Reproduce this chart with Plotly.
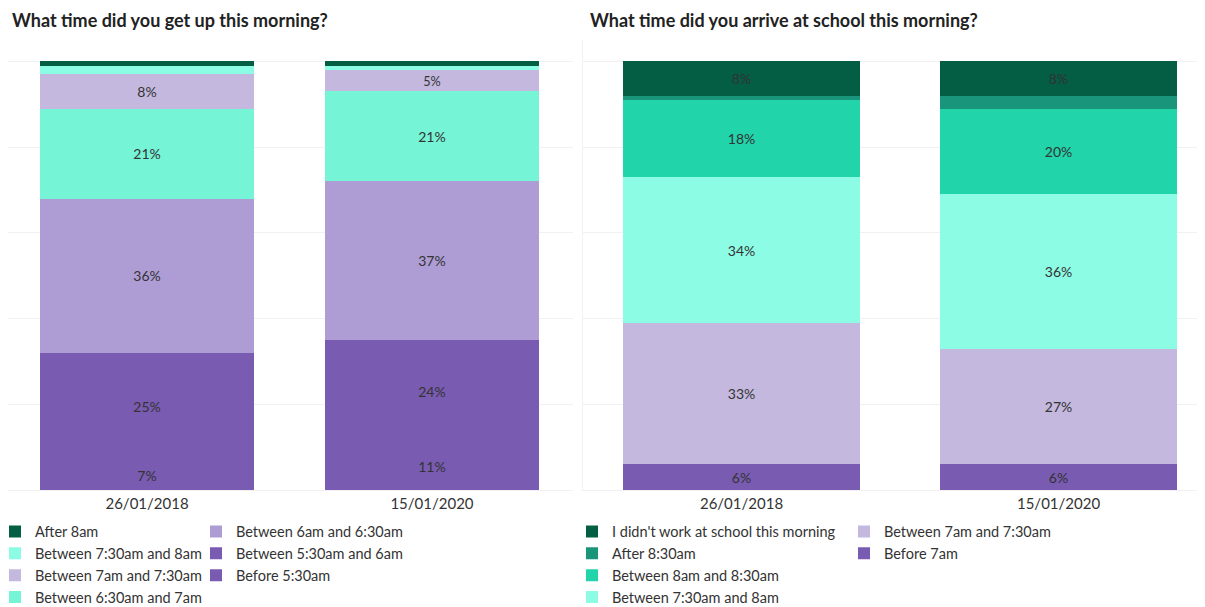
import plotly.graph_objects as go

dates = ["26/01/2018", "15/01/2020"]

# Left chart: "What time did you get up this morning?" (bottom -> top of stack)
wake_series = [
    "Before 5:30am",
    "Between 5:30am and 6am",
    "Between 6am and 6:30am",
    "Between 6:30am and 7am",
    "Between 7am and 7:30am",
    "Between 7:30am and 8am",
    "After 8am",
]
wake_values = [
    [7, 11],
    [25, 24],
    [36, 37],
    [21, 21],
    [8, 5],
    [2, 1],
    [1, 1],
]
wake_colors = ["#795bb2", "#795bb2", "#ae9cd5", "#76f4d6", "#c4b8de", "#8cfce4", "#035e43"]

# Right chart: "What time did you arrive at school this morning?" (bottom -> top)
arrive_series = [
    "Before 7am",
    "Between 7am and 7:30am",
    "Between 7:30am and 8am",
    "Between 8am and 8:30am",
    "After 8:30am",
    "I didn't work at school this morning",
]
arrive_values = [
    [6, 6],
    [33, 27],
    [34, 36],
    [18, 20],
    [1, 3],
    [8, 8],
]
arrive_colors = ["#795bb2", "#c4b8de", "#8cfce4", "#21d4aa", "#18957a", "#035e43"]

titles = ["What time did you get up this morning?", "What time did you arrive at school this morning?"]

FONT = "Lato, 'Open Sans', sans-serif"
TXT = "#333333"

fig = go.Figure()


def label(v):
    return f"{v:g}%" if v >= 5 else ""


# legend assignment: first 4 (top-most) in column 1, rest in column 2
def add_group(series, values, colors, xaxis, yaxis, leg_a, leg_b):
    n = len(series)
    for i, (name, vals, col) in enumerate(zip(series, values, colors)):
        rank_from_top = n - 1 - i
        leg = leg_a if rank_from_top < 4 else leg_b
        fig.add_trace(go.Bar(
            name=name, x=dates, y=vals,
            marker=dict(color=col, line=dict(width=0)),
            text=[label(v) for v in vals],
            textposition="inside", insidetextanchor="middle",
            textfont=dict(family=FONT, size=14, color=TXT),
            xaxis=xaxis, yaxis=yaxis, legend=leg, legendgroup=xaxis + name,
            legendrank=rank_from_top + 1,
            hovertemplate="%{x}<br>" + name + ": %{y}%<extra></extra>",
        ))


add_group(wake_series, wake_values, wake_colors, "x", "y", "legend", "legend2")
add_group(arrive_series, arrive_values, arrive_colors, "x2", "y2", "legend3", "legend4")

W, H = 1197, 599
grid = "#f1f1f1"
axis_common = dict(showgrid=False, ticks="", tickfont=dict(family=FONT, size=15, color=TXT),
                   showline=True, linecolor=grid, linewidth=1, type="category", fixedrange=True)
yaxis_common = dict(range=[0, 105], dtick=20, tick0=0, showgrid=True, gridcolor=grid, gridwidth=1,
                    showticklabels=False, zeroline=False, showline=True, linecolor=grid, fixedrange=True)

leg_common = dict(orientation="v", xanchor="left", yanchor="top", traceorder="grouped",
                  font=dict(family=FONT, size=14.5, color=TXT), bgcolor="rgba(0,0,0,0)",
                  tracegroupgap=0, itemclick=False, itemdoubleclick=False)
ly = -0.0567

fig.update_layout(
    width=W, height=H,
    margin=dict(l=0, r=0, t=32, b=117, autoexpand=False),
    paper_bgcolor="white", plot_bgcolor="white",
    barmode="stack", bargap=0.25,
    font=dict(family=FONT, color=TXT),
    showlegend=True,
    xaxis=dict(domain=[0, 565 / W], range=[-0.488, 1.495], anchor="y", **axis_common),
    xaxis2=dict(domain=[575 / W, 1.0], range=[-0.5, 1.462], anchor="y2", **axis_common),
    yaxis=dict(anchor="x", **yaxis_common),
    yaxis2=dict(anchor="x2", **yaxis_common),
    legend=dict(x=-13 / W, y=ly, **leg_common),
    legend2=dict(x=188 / W, y=ly, **leg_common),
    legend3=dict(x=564 / W, y=ly, **leg_common),
    legend4=dict(x=836 / W, y=ly, **leg_common),
    annotations=[
        dict(text=f"<b>{titles[0]}</b>", xref="paper", yref="paper", x=2 / W, y=1.0,
             xanchor="left", yanchor="middle", showarrow=False,
             font=dict(family=FONT, size=18, color="#222222"), yshift=20),
        dict(text=f"<b>{titles[1]}</b>", xref="paper", yref="paper", x=580 / W, y=1.0,
             xanchor="left", yanchor="middle", showarrow=False,
             font=dict(family=FONT, size=18, color="#222222"), yshift=20),
    ],
)

fig.write_html("out.html")
